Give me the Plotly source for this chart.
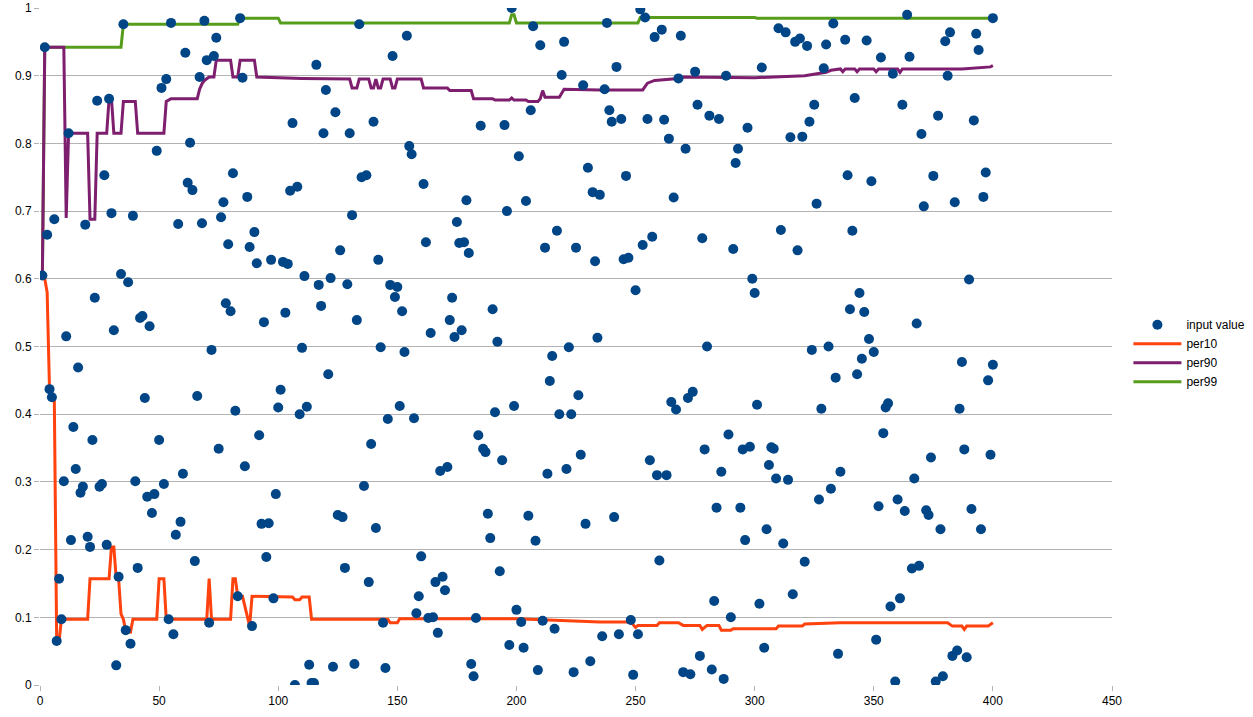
import plotly.graph_objects as go

# ---- input values (x = 1..250 sequential, then explicit x for the rest) ----
y_part1 = [
    0.605, 0.942, 0.665, 0.437, 0.425, 0.688, 0.065, 0.157, 0.097, 0.301,
    0.515, 0.815, 0.214, 0.381, 0.319, 0.469, 0.284, 0.293, 0.680, 0.219,
    0.204, 0.362, 0.572, 0.863, 0.293, 0.297, 0.753, 0.207, 0.866, 0.697,
    0.524, 0.029, 0.160, 0.607, 0.976, 0.081, 0.595, 0.061, 0.693, 0.301,
    0.173, 0.542, 0.545, 0.424, 0.278, 0.530, 0.254, 0.282, 0.789, 0.362,
    0.882, 0.297, 0.895, 0.097, 0.978, 0.075, 0.222, 0.681, 0.241, 0.312,
    0.934, 0.742, 0.801, 0.731, 0.183, 0.427, 0.898, 0.682, 0.981, 0.923,
    0.092, 0.495, 0.929, 0.956, 0.349, 0.691, 0.713, 0.564, 0.651, 0.552,
    0.756, 0.405, 0.131, 0.985, 0.897, 0.323, 0.721, 0.647, 0.087, 0.669,
    0.623, 0.369, 0.238, 0.536, 0.189, 0.239, 0.628, 0.128, 0.282, 0.410,
    0.436, 0.625, 0.550, 0.622, 0.730, 0.830, 0.000, 0.736, 0.400, 0.498,
    0.604, 0.411, 0.030, 0.003, 0.003, 0.916, 0.591, 0.560, 0.815, 0.879,
    0.459, 0.601, 0.027, 0.846, 0.251, 0.642, 0.248, 0.173, 0.592, 0.815,
    0.694, 0.031, 0.539, 0.976, 0.750, 0.294, 0.753, 0.152, 0.356, 0.832,
    0.232, 0.628, 0.499, 0.092, 0.025, 0.393, 0.591, 0.929, 0.573, 0.588,
    0.412, 0.552, 0.492, 0.959, 0.796, 0.784, 0.394, 0.106, 0.131, 0.190,
    0.740, 0.654, 0.099, 0.520, 0.100, 0.152, 0.077, 0.316, 0.160, 0.140,
    0.322, 0.539, 0.572, 0.514, 0.684, 0.653, 0.524, 0.654, 0.716, 0.638,
    0.031, 0.013, 0.099, 0.369, 0.826, 0.349, 0.344, 0.253, 0.217, 0.555,
    0.403, 0.507, 0.168, 0.332, 0.827, 0.700, 0.059, 1.000, 0.412, 0.111,
    0.781, 0.093, 0.055, 0.715, 0.250, 0.849, 0.973, 0.213, 0.022, 0.945,
    0.095, 0.646, 0.312, 0.449, 0.486, 0.083, 0.671, 0.400, 0.901, 0.950,
    0.319, 0.499, 0.400, 0.019, 0.646, 0.428, 0.340, 0.886, 0.238, 0.764,
    0.035, 0.728, 0.626, 0.513, 0.724, 0.072, 0.880, 0.978, 0.849, 0.832,
    0.248, 0.913, 0.075, 0.836, 0.629, 0.752, 0.631, 0.096, 0.015, 0.583,
]
x_part2 = [
    251, 252, 253, 254, 255, 256, 257, 258, 259, 260,
    261, 262, 263, 264, 265, 266, 267, 268, 269, 270,
    271, 272, 273, 274, 275, 276, 277, 278, 279, 280,
    281, 282, 283, 284, 285, 286, 287, 288, 289, 290,
    291, 292, 293, 294, 295, 296, 297, 298, 299, 300,
    301, 302, 303, 304, 305, 306, 307, 308, 309, 310,
    311, 312, 313, 314, 315, 316, 317, 318, 319, 320,
    321, 322, 323, 324, 325, 326, 327, 328, 329, 330,
    331, 332, 333, 334, 335, 336, 338, 339, 340, 341,
    342, 343, 344, 345, 346, 347, 348, 349, 350, 351,
    352, 353, 354, 355, 356, 357, 358, 359, 360, 361,
    362, 363, 364, 365, 366, 367, 368, 369, 370, 371,
    372, 373, 374, 375, 376, 377, 378, 379, 380, 381,
    382, 383, 384, 385, 386, 387, 388, 389, 390, 391,
    392, 393, 394, 395, 396, 397, 398, 399, 400, 400,
]
y_part2 = [
    0.075, 0.998, 0.650, 0.986, 0.836, 0.332, 0.662, 0.957, 0.310, 0.184,
    0.968, 0.835, 0.310, 0.807, 0.418, 0.720, 0.407, 0.896, 0.959, 0.019,
    0.792, 0.424, 0.016, 0.433, 0.906, 0.857, 0.043, 0.660, 0.348, 0.500,
    0.841, 0.023, 0.124, 0.262, 0.836, 0.315, 0.009, 0.900, 0.370, 0.100,
    0.644, 0.771, 0.792, 0.262, 0.348, 0.214, 0.823, 0.352, 0.600, 0.579,
    0.414, 0.120, 0.912, 0.055, 0.230, 0.325, 0.351, 0.349, 0.305, 0.970,
    0.672, 0.209, 0.964, 0.303, 0.809, 0.134, 0.950, 0.642, 0.955, 0.810,
    0.182, 0.944, 0.832, 0.495, 0.857, 0.711, 0.274, 0.408, 0.911, 0.946,
    0.500, 0.290, 0.977, 0.454, 0.046, 0.315, 0.953, 0.753, 0.555, 0.671,
    0.867, 0.459, 0.579, 0.482, 0.551, 0.952, 0.511, 0.744, 0.492, 0.067,
    0.264, 0.927, 0.372, 0.410, 0.416, 0.116, 0.903, 0.005, 0.274, 0.128,
    0.857, 0.257, 0.990, 0.928, 0.172, 0.305, 0.534, 0.176, 0.814, 0.707,
    0.258, 0.251, 0.336, 0.752, 0.005, 0.841, 0.230, 0.013, 0.951, 0.900,
    0.964, 0.043, 0.713, 0.051, 0.408, 0.477, 0.348, 0.041, 0.599, 0.260,
    0.834, 0.962, 0.938, 0.230, 0.721, 0.757, 0.450, 0.340, 0.473, 0.985,
]
input_x = list(range(1, len(y_part1) + 1)) + x_part2
input_y = y_part1 + y_part2

# ---- running percentile lines (breakpoints) ----
per10_x = [1, 2, 3, 4, 5, 6, 7, 8, 9, 20, 21, 29, 30, 31, 32, 33, 34, 35, 36, 38,
           39, 49, 50, 52, 53, 70, 71, 72, 80, 81, 82, 83, 85, 88, 89, 106, 107, 109, 110, 113,
           114, 146, 147, 150, 151, 200, 235, 248, 250, 251, 259, 260, 268, 270, 277, 278, 280, 285, 286, 290,
           291, 309, 310, 320, 321, 335, 336, 381, 383, 387, 388, 389, 398, 400]
per10_y = [0.605, 0.600, 0.580, 0.435, 0.430, 0.425, 0.065, 0.065, 0.097, 0.097, 0.157, 0.157, 0.204, 0.204, 0.157, 0.157, 0.105, 0.097, 0.080, 0.078,
           0.097, 0.097, 0.157, 0.157, 0.097, 0.097, 0.157, 0.097, 0.097, 0.157, 0.157, 0.131, 0.131, 0.087, 0.131, 0.130, 0.126, 0.126, 0.130, 0.130,
           0.097, 0.097, 0.092, 0.092, 0.098, 0.098, 0.093, 0.093, 0.085, 0.088, 0.088, 0.092, 0.092, 0.088, 0.088, 0.082, 0.088, 0.088, 0.081, 0.081,
           0.083, 0.083, 0.087, 0.087, 0.090, 0.091, 0.092, 0.092, 0.087, 0.087, 0.082, 0.087, 0.087, 0.092]

per90_x = [1, 2, 10, 11, 12, 20, 21, 23, 24, 28, 29, 30, 31, 34, 35, 40, 41, 52, 53, 55,
           66, 67, 68, 69, 71, 73, 74, 80, 81, 83, 84, 90, 91, 110, 130, 131, 133, 134, 138, 139,
           140, 141, 142, 143, 144, 147, 148, 149, 150, 160, 161, 171, 172, 181, 182, 190, 191, 197, 198, 199,
           204, 205, 209, 210, 211, 212, 218, 220, 235, 253, 255, 258, 268, 270, 300, 321, 330, 332, 336, 337,
           338, 342, 343, 344, 350, 351, 352, 360, 361, 362, 387, 395, 399, 400]
per90_y = [0.605, 0.942, 0.942, 0.690, 0.815, 0.815, 0.688, 0.688, 0.815, 0.815, 0.866, 0.866, 0.815, 0.815, 0.862, 0.862, 0.815, 0.815, 0.862, 0.866,
           0.866, 0.880, 0.888, 0.893, 0.898, 0.898, 0.923, 0.923, 0.898, 0.898, 0.923, 0.923, 0.898, 0.896, 0.895, 0.882, 0.882, 0.895, 0.895, 0.882,
           0.882, 0.895, 0.882, 0.882, 0.895, 0.895, 0.882, 0.882, 0.895, 0.895, 0.882, 0.882, 0.878, 0.878, 0.866, 0.866, 0.864, 0.864, 0.867, 0.864,
           0.864, 0.862, 0.862, 0.866, 0.878, 0.868, 0.868, 0.880, 0.879, 0.879, 0.889, 0.893, 0.896, 0.898, 0.897, 0.900, 0.905, 0.908, 0.910, 0.906,
           0.910, 0.910, 0.906, 0.910, 0.910, 0.906, 0.910, 0.910, 0.905, 0.910, 0.910, 0.912, 0.913, 0.915]

per99_x = [1, 2, 34, 35, 83, 84, 100, 101, 197, 198, 199, 200, 251, 252, 300, 301, 400]
per99_y = [0.605, 0.942, 0.942, 0.976, 0.976, 0.985, 0.985, 0.978, 0.978, 0.990, 0.990, 0.978, 0.978, 0.986, 0.986, 0.985, 0.985]

x_ticks = [0, 50, 100, 150, 200, 250, 300, 350, 400, 450]
y_ticks = [0, 0.1, 0.2, 0.3, 0.4, 0.5, 0.6, 0.7, 0.8, 0.9, 1]

fig = go.Figure()
fig.add_trace(go.Scatter(x=input_x, y=input_y, mode="markers", name="input value",
                         marker=dict(symbol="circle", size=10, color="#004586", line=dict(width=0)),
                         zorder=10))
fig.add_trace(go.Scatter(x=per10_x, y=per10_y, mode="lines", name="per10",
                         line=dict(color="#ff420e", width=3), zorder=1))
fig.add_trace(go.Scatter(x=per90_x, y=per90_y, mode="lines", name="per90",
                         line=dict(color="#7e1e6e", width=3), zorder=2))
fig.add_trace(go.Scatter(x=per99_x, y=per99_y, mode="lines", name="per99",
                         line=dict(color="#579d1c", width=3), zorder=0))

grid = "#b3b3b3"
fig.update_layout(
    width=1253, height=717,
    margin=dict(l=40, r=141, t=8, b=32, autoexpand=False),
    paper_bgcolor="white", plot_bgcolor="white",
    font=dict(family="Liberation Sans, Arial, sans-serif", size=12, color="#000000"),
    showlegend=True,
    legend=dict(x=1.0153, xanchor="left", y=0.49, yanchor="middle",
                font=dict(size=12), itemwidth=48, tracegroupgap=0,
                bgcolor="rgba(0,0,0,0)"),
    xaxis=dict(range=[0, 450], tickvals=x_ticks, showgrid=False, zeroline=False,
               showline=True, linecolor=grid, linewidth=1, automargin=False,
               ticks="outside", ticklen=5, tickcolor=grid, mirror=False),
    yaxis=dict(range=[0, 1], tickvals=y_ticks, ticktext=[str(v) for v in y_ticks],
               showgrid=True, gridcolor=grid, gridwidth=1, zeroline=False,
               showline=True, linecolor=grid, linewidth=1, automargin=False,
               ticks="outside", ticklen=5, tickcolor=grid),
)

fig.write_html("out.html", config={"displayModeBar": False},
               post_script="document.body.style.margin='0';document.body.style.overflow='hidden';")
